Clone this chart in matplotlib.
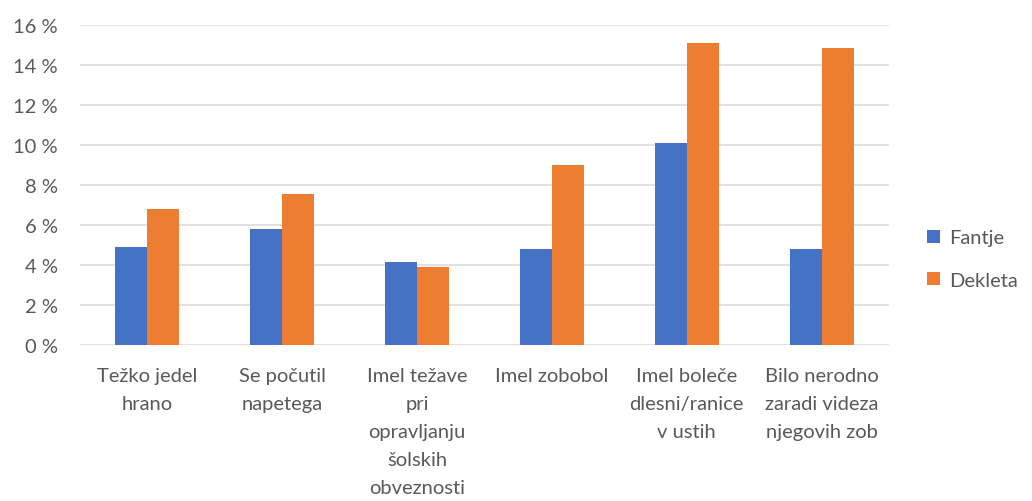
import matplotlib.pyplot as plt
import numpy as np

kategorije = ['Težko jedel\nhrano', 'Se počutil\nnapetega',
              'Imel težave\npri\nopravljanju\nšolskih\nobveznosti',
              'Imel zobobol', 'Imel boleče\ndlesni/ranice\nv ustih',
              'Bilo nerodno\nzaradi videza\nnjegovih zob']
fantje = [4.9, 5.8, 4.12, 4.8, 10.1, 4.8]
dekleta = [6.8, 7.55, 3.9, 9.0, 15.1, 14.83]
y_ticks = [0, 2, 4, 6, 8, 10, 12, 14, 16]

plt.rcParams['font.family'] = ['Lato', 'DejaVu Sans']
siva = '#595959'
fs = 14.5

fig = plt.figure(figsize=(10.32, 5.02), dpi=100)
ax = fig.add_axes([0.0775, 0.3114, 0.7839, 0.6374])

x = np.arange(len(kategorije))
w = 0.237
ax.bar(x - w / 2, fantje, w, color='#4472C4', label='Fantje', zorder=3)
ax.bar(x + w / 2, dekleta, w, color='#ED7D31', label='Dekleta', zorder=3)

ax.set_xlim(-0.5, len(kategorije) - 0.5)
ax.set_ylim(0, 16)
ax.set_yticks(y_ticks)
ax.set_yticklabels([f'{t} %' for t in y_ticks], color=siva, fontsize=fs)
ax.set_xticks(x)
ax.set_xticklabels(kategorije, color=siva, fontsize=fs, linespacing=1.78, va='top')
ax.tick_params(axis='both', length=0)
ax.tick_params(axis='x', pad=16)
ax.tick_params(axis='y', pad=16)
ax.grid(axis='y', color='#d9d9d9', linewidth=1.1, zorder=0)
for s in ax.spines.values():
    s.set_visible(False)

leg = ax.legend(loc='center left', bbox_to_anchor=(1.035, 0.268), frameon=False,
                fontsize=fs, labelspacing=1.25, handlelength=0.65, handleheight=0.65,
                handletextpad=0.45, borderpad=0)
for t in leg.get_texts():
    t.set_color(siva)

fig.savefig('out.png', dpi=100)
